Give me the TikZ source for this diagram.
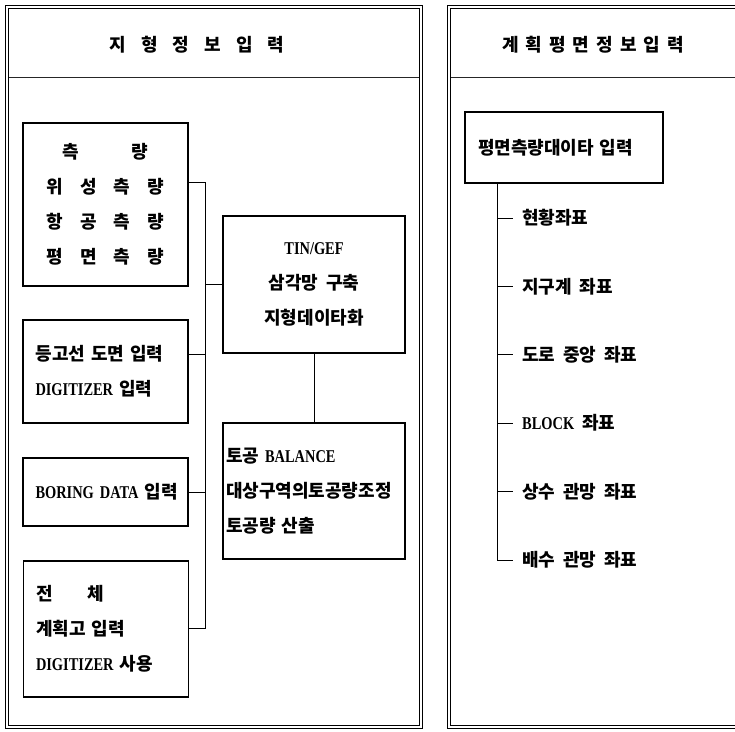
\documentclass[tikz,border=0pt]{standalone}
\usepackage{fontspec}
\setmainfont{Noto Sans CJK KR}
\newfontfamily\enfont[FakeStretch=0.8]{Liberation Serif}
\newcommand\en[1]{{\enfont #1}}
\begin{document}
\begin{tikzpicture}[x=1pt,y=-1pt,font=\bfseries\fontsize{18}{35}\selectfont\spaceskip 8pt\relax,
  frame/.style={line width=1pt,double distance=1.6pt},
  stepbox/.style={draw,line width=1.1pt,inner sep=0pt},
  ttl/.style={font=\bfseries\fontsize{18}{20}\selectfont},
  item/.style={anchor=west,inner xsep=9pt,inner ysep=0pt},
  wire/.style={line width=0.9pt}]
\useasboundingbox (0,0) rectangle (735,731);
\draw[frame] (7,7) rectangle (421,727);
\draw[frame] (449,7) rectangle (770,727);
\draw[line width=0.5pt,black!85] (9,77) -- (419,77);
\draw[line width=0.5pt,black!85] (451,77) -- (740,77);
\node[ttl] (ttla) at (197,45) {\spaceskip 15pt 지 형 정 보 입 력};
\node[ttl] (ttlb) at (593,45) {\spaceskip 7pt 계 획 평 면 정 보 입 력};
\node[stepbox,minimum width=165,minimum height=163,align=center] (sur) at (105.5,204.5)
  {{\spaceskip 52pt 측 량}\\{\spaceskip 17pt 위 성 측 량}\\{\spaceskip 17pt 항 공 측 량}\\{\spaceskip 17pt 평 면 측 량}};
\node[stepbox,minimum height=103,text width=140,inner xsep=12.5pt,align=left] (cnt) at (105.5,371.5)
  {등고선 도면 입력\\\en{DIGITIZER} 입력};
\node[stepbox,minimum height=68,text width=140,inner xsep=12.5pt,align=left] (bor) at (105.5,492)
  {\mbox{\en{BORING DATA} 입력}};
\node[stepbox,minimum height=136,text width=140,inner xsep=12.5pt,align=left] (lvl) at (106,629)
  {전\hspace{35pt}체\\계획고 입력\\\en{DIGITIZER} 사용};
\node[stepbox,minimum width=182,minimum height=137,align=center] (tin) at (314,284.5)
  {\en{TIN/GEF}\\삼각망 구축\\지형데이타화};
\node[stepbox,minimum height=136,text width=176,inner xsep=3pt,align=left] (bal) at (314,491)
  {토공 \en{BALANCE}\\\mbox{대상구역의토공량조정}\\토공량 산출};
\node[stepbox,minimum height=71,text width=172,inner xsep=13pt,align=left] (pln) at (564,147.5)
  {평면측량대이타 입력};
\coordinate (bt) at (205,182);
\coordinate (bb) at (205,628);
\coordinate (s2) at (205,354);
\draw[wire] (sur.east |- bt) -- (bt) -- (bb) -- (lvl.east |- bb);
\draw[wire] (cnt.east |- s2) -- (s2);
\draw[wire] (bor.east) -- (bor.east -| bt);
\draw[wire] (tin.west) -- (tin.west -| bt);
\draw[wire] (tin.south) -- (bal.north);
\coordinate (tr) at ([xshift=33pt]pln.south west);
\foreach \t [count=\i] in {현황좌표,지구계 좌표,도로 중앙 좌표,\en{BLOCK} 좌표,상수 관망 좌표,배수 관망 좌표}
  \node[item] (c\i) at (513,{218+68.4*(\i-1)}) {\t};
\draw[wire] (tr) |- (c6.west);
\foreach \i in {1,...,5}
  \draw[wire] (c\i.west -| tr) -- (c\i.west);
\end{tikzpicture}
\end{document}
